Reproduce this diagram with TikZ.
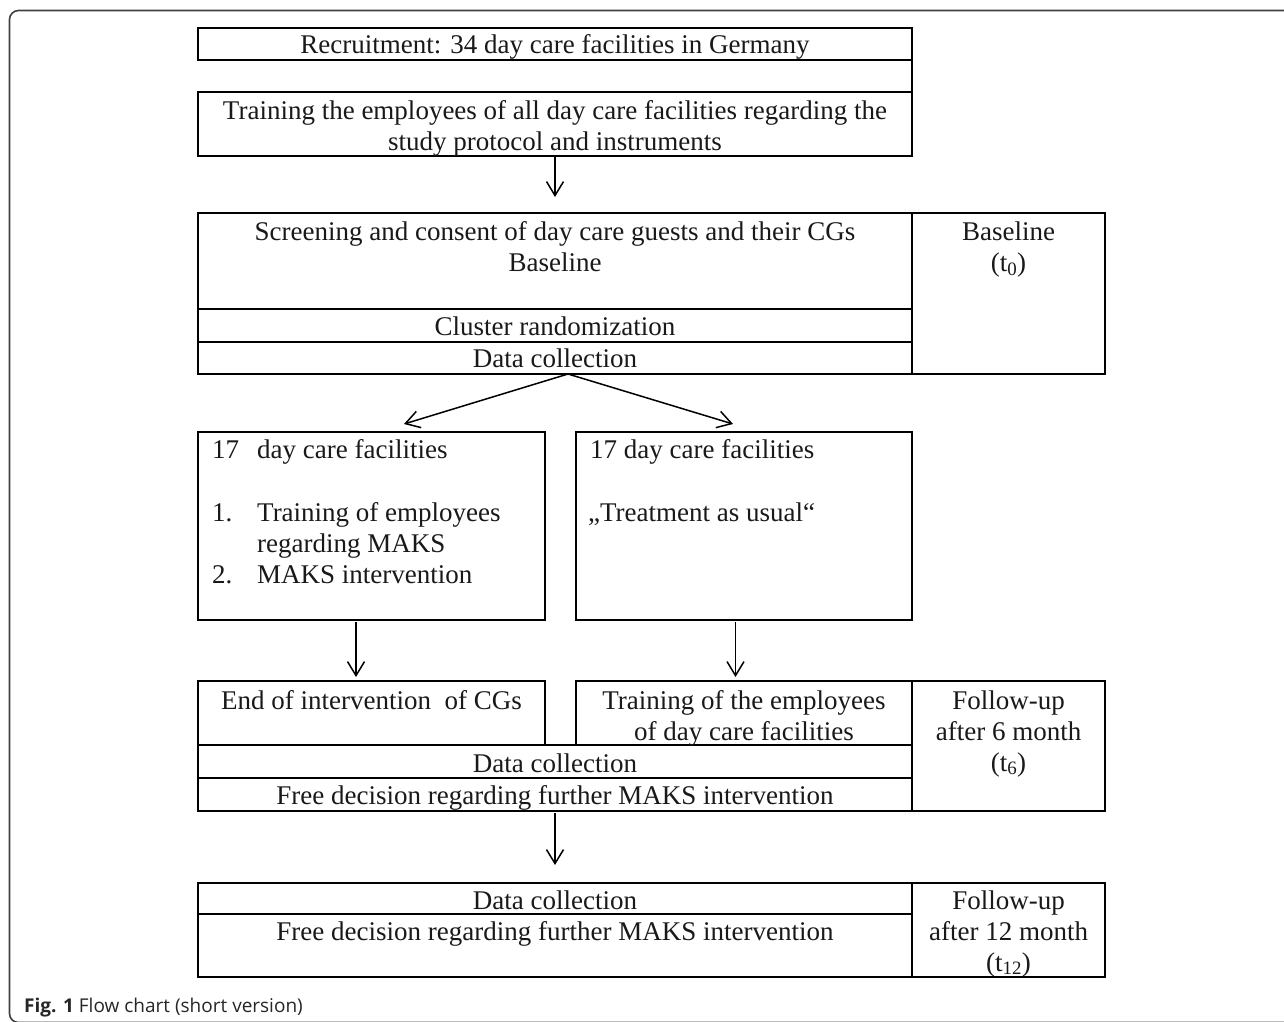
\documentclass[tikz,border=0pt]{standalone}
\usepackage{fontspec}
\setmainfont{Liberation Serif}
\setsansfont{Open Sans}
\usetikzlibrary{arrows.meta,calc}
\begin{document}
\begin{tikzpicture}[x=1pt,y=-1pt,
  font=\fontsize{27}{31}\selectfont,
  cell/.style={draw=black, line width=2pt, anchor=north west, inner sep=0pt, outer sep=0pt},
  txt/.style={anchor=base, inner sep=0pt, text=black!90},
  txtl/.style={anchor=base west, inner sep=0pt, text=black!90},
  arr/.style={-{Straight Barb[length=14pt,width=17pt]}, line width=1.5pt},
  frame/.style={draw=black!75, line width=1.6pt, rounded corners=9pt}]
\useasboundingbox (0,0) rectangle (1284,1021);
\draw[frame] (1300,10.5) -- (9.5,10.5) -- (9.5,1022.5) -- (1300,1022.5);

% cells
\node[cell, minimum width=714pt, minimum height=32pt] (rec) at (198,28) {};
\node[cell, minimum width=714pt, minimum height=64pt] (train) at (198,92) {};
\node[cell, minimum width=714pt, minimum height=96pt] (screen) at (198,213) {};
\node[cell, minimum width=714pt, minimum height=33pt] (clust) at (198,309) {};
\node[cell, minimum width=714pt, minimum height=32pt] (dcA) at (198,342) {};
\node[cell, minimum width=193pt, minimum height=161pt] (base) at (912,213) {};
\node[cell, minimum width=347pt, minimum height=188pt] (grpL) at (198,432) {};
\node[cell, minimum width=336pt, minimum height=188pt] (grpR) at (576,432) {};
\node[cell, minimum width=347pt, minimum height=64pt] (endL) at (198,681) {};
\node[cell, minimum width=336pt, minimum height=64pt] (trainR) at (576,681) {};
\node[cell, minimum width=714pt, minimum height=33pt] (dcB) at (198,745) {};
\node[cell, minimum width=714pt, minimum height=33pt] (freeB) at (198,778) {};
\node[cell, minimum width=193pt, minimum height=130pt] (fuA) at (912,681) {};
\node[cell, minimum width=714pt, minimum height=31pt] (dcC) at (198,883) {};
\node[cell, minimum width=714pt, minimum height=63pt] (freeC) at (198,914) {};
\node[cell, minimum width=193pt, minimum height=94pt] (fuB) at (912,883) {};
\draw[line width=2pt] (rec.south east) -- (train.north east);

% texts
\node[txt] (recT) at (555,53) {Recruitment: 34 day care facilities in Germany};
\node[txt] (trainT1) at (555,119) {Training the employees of all day care facilities regarding the};
\node[txt] (trainT2) at (555,150) {study protocol and instruments};
\node[txt] (screenT1) at (555,240) {Screening and consent of day care guests and their CGs};
\node[txt] (screenT2) at (555,271) {Baseline};
\node[txt] (baseT1) at (1008.5,240) {Baseline};
\node[txt] (baseT2) at (1008.5,271) {(t\textsubscript{0})};
\node[txt] (clustT) at (555,335) {Cluster randomization};
\node[txt] (dcAT) at (555,367) {Data collection};

\node[txtl] (gL1a) at (212,458) {17};
\node[txtl] (gL1b) at (257,458) {day care facilities};
\node[txtl] (gL2a) at (212,521) {1.};
\node[txtl] (gL2b) at (257,521) {Training of employees};
\node[txtl] (gL3b) at (257,552) {regarding MAKS};
\node[txtl] (gL4a) at (212,583) {2.};
\node[txtl] (gL4b) at (257,583) {MAKS intervention};
\node[txtl] (gR1) at (590,458) {17 day care facilities};
\node[txtl] (gR2) at (588,521) {„Treatment as usual“};

\node[txt] (endT) at (371.5,709) {End of intervention\ \ of CGs};
\node[txt] (trainRT1) at (744,709) {Training of the employees};
\node[txt] (trainRT2) at (744,740) {of day care facilities};
\node[txt] (dcBT) at (555,772) {Data collection};
\node[txt] (freeBT) at (555,804) {Free decision regarding further MAKS intervention};
\node[txt] (fuAT1) at (1008.5,709) {Follow-up};
\node[txt] (fuAT2) at (1008.5,740) {after 6 month};
\node[txt] (fuAT3) at (1008.5,771) {(t\textsubscript{6})};

\node[txt] (dcCT) at (555,909) {Data collection};
\node[txt] (freeCT) at (555,940) {Free decision regarding further MAKS intervention};
\node[txt] (fuBT1) at (1008.5,909) {Follow-up};
\node[txt] (fuBT2) at (1008.5,940) {after 12 month};
\node[txt] (fuBT3) at (1008.5,971) {(t\textsubscript{12})};

% arrows
\draw[arr, shorten >=16pt] (train.south) -- (screen.north);
\coordinate (split) at (568,374);
\coordinate (tipL) at (404,424);
\coordinate (tipR) at (733,424);
\draw[arr] (split) -- (tipL);
\draw[arr] (split) -- (tipR);
\draw[arr] ([xshift=-15.5pt,yshift=-2pt]grpL.south) -- ([xshift=-15.5pt,yshift=4pt]endL.north);
\draw[arr] ([xshift=-8.5pt,yshift=-2pt]grpR.south) -- ([xshift=-8.5pt,yshift=4pt]trainR.north);
\draw[arr] ([yshift=-2pt]freeB.south) -- ([yshift=18pt]dcC.north);

% caption
\node[anchor=base west, inner sep=0pt, font=\sffamily\fontsize{19}{22}\selectfont, text=black!85] (cap) at (24,1012) {\textbf{Fig. 1} Flow chart (short version)};
\end{tikzpicture}
\end{document}
